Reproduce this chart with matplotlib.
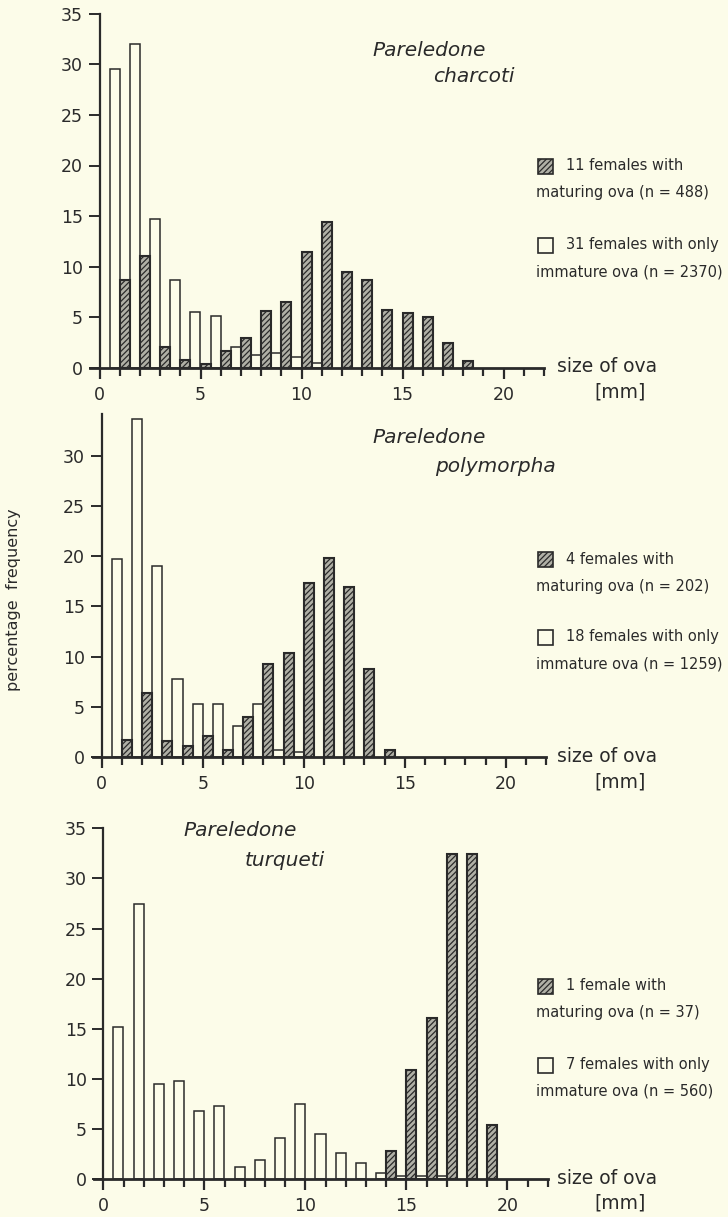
import matplotlib
matplotlib.use('Agg')
import matplotlib.pyplot as plt
from matplotlib.patches import Rectangle
from matplotlib.ticker import FixedLocator
import numpy as np

# ---------------- data ----------------
charcoti_classes = list(range(1, 19))
charcoti_immature = [29.5, 32.0, 14.7, 8.7, 5.5, 5.1, 2.0, 1.3, 1.5, 1.1, 0.5, 0, 0, 0, 0, 0, 0, 0]
charcoti_maturing = [8.7, 11.0, 2.0, 0.8, 0.4, 1.7, 2.9, 5.6, 6.5, 11.4, 14.4, 9.5, 8.7, 5.7, 5.4, 5.0, 2.4, 0.7]

polymorpha_classes = list(range(1, 15))
polymorpha_immature = [19.7, 33.7, 19.0, 7.8, 5.3, 5.3, 3.1, 5.3, 0.7, 0.5, 0, 0, 0, 0]
polymorpha_maturing = [1.7, 6.4, 1.6, 1.1, 2.1, 0.7, 4.0, 9.3, 10.3, 17.3, 19.8, 16.9, 8.8, 0.7]

turqueti_classes = list(range(1, 20))
turqueti_immature = [15.2, 27.4, 9.5, 9.8, 6.8, 7.3, 1.2, 1.9, 4.1, 7.5, 4.5, 2.6, 1.6, 0.6, 0.3, 0.3, 0.3, 0, 0]
turqueti_maturing = [0, 0, 0, 0, 0, 0, 0, 0, 0, 0, 0, 0, 0, 2.8, 10.9, 16.1, 32.4, 32.4, 5.4]

x_tick_labels = ['0', '5', '10', '15', '20']
panel_titles = [('Pareledone', 'charcoti'), ('Pareledone', 'polymorpha'), ('Pareledone', 'turqueti')]
legend_maturing = [('11 females with', 'maturing ova (n = 488)'),
                   ('4 females with', 'maturing ova (n = 202)'),
                   ('1 female with', 'maturing ova (n = 37)')]
legend_immature = [('31 females with only', 'immature ova (n = 2370)'),
                   ('18 females with only', 'immature ova (n = 1259)'),
                   ('7 females with only', 'immature ova (n = 560)')]
y_label = 'percentage  frequency'
x_label = ('size of ova', '[mm]')

# ---------------- style ----------------
W, H = 728, 1217
BG = '#fcfce9'
INK = '#2a2a2a'
HATCH_FACE = '#b0b0a6'
plt.rcParams['font.family'] = ['DejaVu Sans']
plt.rcParams['hatch.linewidth'] = 0.9
plt.rcParams['hatch.color'] = INK

fig = plt.figure(figsize=(W / 100, H / 100), dpi=100, facecolor=BG)


def fx(px):
    return px / W


def fy(py):
    return 1 - py / H


XMIN = -0.45
XMAX = 22
PXU = 20.2

panels = [
    dict(x0=99.5, y0=367.7, py=10.11, ymax=35, yticks=list(range(0, 36, 5)),
         classes=charcoti_classes, imm=charcoti_immature, mat=charcoti_maturing,
         title_xy=((372, 50), (433, 77)), leg_y=(166, 193, 245, 272), xlab_y=(367, 392)),
    dict(x0=101.7, y0=756.7, py=10.02, ymax=34.2, yticks=list(range(0, 31, 5)),
         classes=polymorpha_classes, imm=polymorpha_immature, mat=polymorpha_maturing,
         title_xy=((372, 438), (435, 467)), leg_y=(559, 586, 637, 664), xlab_y=(757, 782)),
    dict(x0=103.3, y0=1179.0, py=10.02, ymax=35, yticks=list(range(0, 36, 5)),
         classes=turqueti_classes, imm=turqueti_immature, mat=turqueti_maturing,
         title_xy=((183, 830), (245, 860)), leg_y=(986, 1012, 1065, 1091), xlab_y=(1178, 1203)),
]

for i, p in enumerate(panels):
    left_px = p['x0'] + XMIN * PXU
    right_px = p['x0'] + XMAX * PXU
    top_px = p['y0'] - p['ymax'] * p['py']
    ax = fig.add_axes([fx(left_px), fy(p['y0']), (right_px - left_px) / W,
                       (p['y0'] - top_px) / H])
    ax.set_facecolor('none')
    ax.set_xlim(XMIN, XMAX)
    ax.set_ylim(0, p['ymax'])

    cls = np.array(p['classes'], dtype=float)
    imm = np.array(p['imm'], dtype=float)
    mat = np.array(p['mat'], dtype=float)
    mi = imm > 0
    mm = mat > 0
    ax.bar(cls[mi] - 0.25, imm[mi], width=0.5, color=BG, edgecolor=INK,
           linewidth=1.1, zorder=2)
    ax.bar(cls[mm] + 0.25, mat[mm], width=0.5, color=HATCH_FACE, edgecolor=INK,
           linewidth=1.5, hatch='//////', zorder=3)

    for s in ['top', 'right']:
        ax.spines[s].set_visible(False)
    ax.spines['left'].set_position(('data', 0))
    ax.spines['left'].set_linewidth(1.6)
    ax.spines['bottom'].set_linewidth(2.0)
    ax.spines['left'].set_color(INK)
    ax.spines['bottom'].set_color(INK)
    ax.spines['left'].set_zorder(5)
    ax.spines['bottom'].set_zorder(5)

    ax.xaxis.set_major_locator(FixedLocator([0, 5, 10, 15, 20]))
    ax.set_xticklabels(x_tick_labels)
    ax.xaxis.set_minor_locator(FixedLocator([v for v in range(0, 23) if v % 5 != 0]))
    ax.tick_params(axis='x', which='major', direction='out', length=8, width=1.6,
                   color=INK, labelsize=12.5, labelcolor=INK, pad=5)
    ax.tick_params(axis='x', which='minor', direction='out', length=6, width=1.6,
                   color=INK)
    ax.set_yticks(p['yticks'])
    ax.tick_params(axis='y', which='major', direction='out', length=8, width=1.4,
                   color=INK, labelsize=12.5, labelcolor=INK, pad=4)

    # species title
    (tx1, ty1), (tx2, ty2) = p['title_xy']
    t1, t2 = panel_titles[i]
    fig.text(fx(tx1), fy(ty1), t1, fontsize=14.5, style='italic',
             color=INK, ha='left', va='center')
    fig.text(fx(tx2), fy(ty2), t2, fontsize=14.5, style='italic',
             color=INK, ha='left', va='center')

    # legend
    ly = p['leg_y']
    fig.add_artist(Rectangle((fx(538), fy(ly[0] + 7.5)), 15 / W, 15 / H,
                             transform=fig.transFigure, facecolor=HATCH_FACE,
                             edgecolor=INK, linewidth=1.2, hatch='//////'))
    fig.text(fx(566), fy(ly[0]), legend_maturing[i][0], fontsize=10.5, color=INK,
             ha='left', va='center')
    fig.text(fx(536), fy(ly[1]), legend_maturing[i][1], fontsize=10.5, color=INK,
             ha='left', va='center')
    fig.add_artist(Rectangle((fx(538), fy(ly[2] + 7.5)), 15 / W, 15 / H,
                             transform=fig.transFigure, facecolor=BG,
                             edgecolor=INK, linewidth=1.2))
    fig.text(fx(566), fy(ly[2]), legend_immature[i][0], fontsize=10.5, color=INK,
             ha='left', va='center')
    fig.text(fx(536), fy(ly[3]), legend_immature[i][1], fontsize=10.5, color=INK,
             ha='left', va='center')

    # axis end label
    fig.text(fx(557), fy(p['xlab_y'][0]), x_label[0], fontsize=13.5, color=INK,
             ha='left', va='center')
    fig.text(fx(594), fy(p['xlab_y'][1]), x_label[1], fontsize=13.5, color=INK,
             ha='left', va='center')

fig.text(fx(14), fy(600), y_label, fontsize=11.5, color=INK, rotation=90,
         ha='center', va='center')

fig.savefig('out.png', dpi=100, facecolor=BG)
